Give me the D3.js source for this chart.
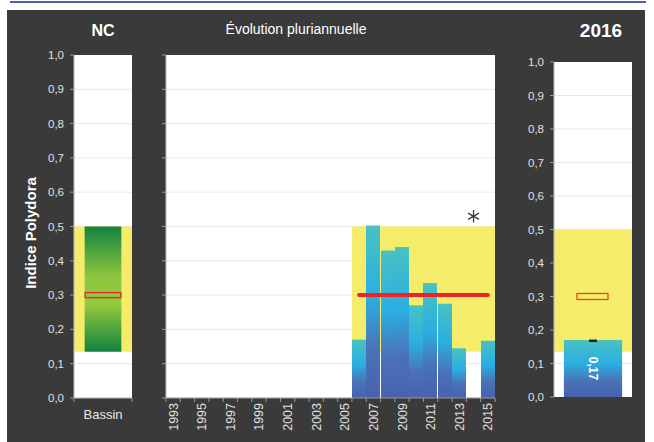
<!DOCTYPE html>
<html>
<head>
<meta charset="utf-8">
<script src="https://cdn.jsdelivr.net/npm/d3@7"></script>
<style>
  body { margin: 0; background: #fff; }
  svg { display: block; font-family: "Liberation Sans", Arial, sans-serif; }
</style>
</head>
<body>
<svg width="654" height="442"></svg>
<script>
// data
var years = [1993, 1994, 1995, 1996, 1997, 1998, 1999, 2000, 2001, 2002, 2003, 2004,
             2005, 2006, 2007, 2008, 2009, 2010, 2011, 2012, 2013, 2014, 2015];
var yearLabels = ["1993", "1995", "1997", "1999", "2001", "2003", "2005", "2007", "2009", "2011", "2013", "2015"];
var barYears = [2006, 2007, 2008, 2009, 2010, 2011, 2012, 2013, 2015];
var barValues = [0.17, 0.503, 0.43, 0.44, 0.27, 0.335, 0.275, 0.145, 0.167];
var refBand = [0.135, 0.5];      // yellow reference band
var refStartYear = 2006;
var medianValue = 0.3;           // red line / red box
var starYear = 2014, starValue = 0.53;
var currentYear = "2016", currentValue = 0.17;
var yTicks = [0, 0.1, 0.2, 0.3, 0.4, 0.5, 0.6, 0.7, 0.8, 0.9, 1.0];

var svg = d3.select("svg");
var fmt = function(v) { return d3.format(".1f")(v).replace(".", ","); };

// background
svg.append("rect").attr("x", 10).attr("y", 1).attr("width", 636).attr("height", 2).attr("fill", "#4b63ae");
svg.append("rect").attr("x", 7).attr("y", 10).attr("width", 638).attr("height", 432).attr("fill", "#3a3a3a");

var defs = svg.append("defs");
var blue = defs.append("linearGradient").attr("id", "blueGrad").attr("x1", 0).attr("x2", 0).attr("y1", 0).attr("y2", 1);
[[0, "#48c2c3"], [0.42, "#2baee2"], [0.72, "#4a72b7"], [1, "#4862ad"]].forEach(function(s) {
  blue.append("stop").attr("offset", s[0]).attr("stop-color", s[1]);
});
var green = defs.append("linearGradient").attr("id", "greenGrad").attr("x1", 0).attr("x2", 0).attr("y1", 0).attr("y2", 1);
[[0, "#128240"], [0.4, "#8dc63f"], [0.62, "#95c93d"], [1, "#128240"]].forEach(function(s) {
  green.append("stop").attr("offset", s[0]).attr("stop-color", s[1]);
});

function yGrid(g, y, x0, x1) {
  g.selectAll(".grid").data(yTicks.slice(1, -1)).enter().append("line")
    .attr("x1", x0).attr("x2", x1)
    .attr("y1", d => y(d)).attr("y2", d => y(d))
    .attr("stroke", "#e2e2e2").attr("stroke-dasharray", "3,1");
}
function yTicksDraw(g, y, x0, labels) {
  g.append("line").attr("x1", x0).attr("x2", x0).attr("y1", y(0)).attr("y2", y(1))
    .attr("stroke", "#bbb").attr("stroke-width", 1);
  g.selectAll(".tk").data(yTicks).enter().append("line")
    .attr("x1", x0 - 4).attr("x2", x0).attr("y1", d => y(d)).attr("y2", d => y(d))
    .attr("stroke", "#999");
  if (labels) {
    g.selectAll(".tl").data(yTicks).enter().append("text")
      .attr("x", x0 - 10).attr("y", d => y(d) + 4)
      .attr("text-anchor", "end").attr("fill", "#e0e0e0").attr("font-size", 11.5)
      .text(fmt);
  }
}

// ---- left panel (NC / Bassin)
var yL = d3.scaleLinear().domain([0, 1]).range([398, 55]);
var xL = d3.scaleBand().domain(["Bassin"]).range([74, 132]).paddingInner(0).paddingOuter(0.29);
var gL = svg.append("g");
gL.append("rect").attr("x", 74).attr("y", yL(1)).attr("width", 58).attr("height", yL(0) - yL(1)).attr("fill", "#fff");
yGrid(gL, yL, 74, 132);
gL.append("rect").attr("x", 74).attr("y", yL(refBand[1])).attr("width", 58)
  .attr("height", yL(refBand[0]) - yL(refBand[1])).attr("fill", "#f5ec6a");
gL.append("rect").attr("x", xL("Bassin")).attr("y", yL(refBand[1])).attr("width", xL.bandwidth())
  .attr("height", yL(refBand[0]) - yL(refBand[1])).attr("fill", "url(#greenGrad)");
gL.append("rect").attr("x", xL("Bassin") + 0.5).attr("y", yL(medianValue) - 2.5)
  .attr("width", xL.bandwidth() - 1).attr("height", 5)
  .attr("fill", "none").attr("stroke", "#e5262c").attr("stroke-width", 1.3);
yTicksDraw(gL, yL, 74, true);
gL.append("line").attr("x1", 74).attr("x2", 132).attr("y1", yL(0)).attr("y2", yL(0)).attr("stroke", "#bbb");
[74, 132].forEach(function(x) {
  gL.append("line").attr("x1", x).attr("x2", x).attr("y1", yL(0)).attr("y2", yL(0) + 4).attr("stroke", "#999");
});
gL.append("text").attr("x", 103).attr("y", 419).attr("text-anchor", "middle")
  .attr("fill", "#e8e8e8").attr("font-size", 13).text("Bassin");
svg.append("text").attr("x", 103).attr("y", 36).attr("text-anchor", "middle")
  .attr("fill", "#fff").attr("font-size", 16).attr("font-weight", "bold").text("NC");
svg.append("text").attr("transform", "translate(36,233) rotate(-90)").attr("text-anchor", "middle")
  .attr("fill", "#fff").attr("font-size", 15).attr("font-weight", "bold").text("Indice Polydora");

// ---- middle panel (multi-year)
var yM = yL;
var xM = d3.scaleBand().domain(years).range([166, 495]);
var gM = svg.append("g");
gM.append("rect").attr("x", 166).attr("y", yM(1)).attr("width", 329).attr("height", yM(0) - yM(1)).attr("fill", "#fff");
yGrid(gM, yM, 166, 495);
gM.append("rect").attr("x", xM(refStartYear)).attr("y", yM(refBand[1]))
  .attr("width", 495 - xM(refStartYear)).attr("height", yM(refBand[0]) - yM(refBand[1])).attr("fill", "#f5ec6a");
gM.selectAll(".bar").data(barYears).enter().append("rect")
  .attr("x", d => Math.round(xM(d)))
  .attr("width", Math.floor(xM.bandwidth()))
  .attr("y", (d, i) => yM(barValues[i]))
  .attr("height", (d, i) => yM(0) - yM(barValues[i]))
  .attr("fill", "url(#blueGrad)");
gM.append("line")
  .attr("x1", xM(barYears[0]) + xM.bandwidth() / 2).attr("x2", xM(barYears[barYears.length - 1]) + xM.bandwidth() / 2)
  .attr("y1", yM(medianValue)).attr("y2", yM(medianValue))
  .attr("stroke", "#ec2329").attr("stroke-width", 4).attr("stroke-linecap", "round");
gM.append("path")
  .attr("d", d3.symbol().type(d3.symbolAsterisk).size(110)())
  .attr("transform", "translate(" + (xM(starYear) + xM.bandwidth() / 2) + "," + yM(starValue) + ")")
  .attr("fill", "none").attr("stroke", "#3a3a3a").attr("stroke-width", 1.3);
yTicksDraw(gM, yM, 166, false);
gM.append("line").attr("x1", 166).attr("x2", 495).attr("y1", yM(0)).attr("y2", yM(0)).attr("stroke", "#999");
gM.selectAll(".xt").data(years.concat([null])).enter().append("line")
  .attr("x1", d => d === null ? 495 : xM(d)).attr("x2", d => d === null ? 495 : xM(d))
  .attr("y1", yM(0)).attr("y2", yM(0) + 4).attr("stroke", "#999");
gM.selectAll(".xl").data(yearLabels).enter().append("text")
  .attr("transform", d => "translate(" + (xM(+d) + xM.bandwidth() / 2 + 4.5) + "," + (yM(0) + 5) + ") rotate(-90)")
  .attr("text-anchor", "end").attr("fill", "#e0e0e0").attr("font-size", 12.5).text(d => d);
svg.append("text").attr("x", 296).attr("y", 34).attr("text-anchor", "middle")
  .attr("fill", "#fff").attr("font-size", 14).text("Évolution pluriannuelle");

// ---- right panel (current year)
var yR = d3.scaleLinear().domain([0, 1]).range([397, 62]);
var xR = d3.scaleBand().domain([currentYear]).range([554, 632]).paddingOuter(0.17);
var gR = svg.append("g");
gR.append("rect").attr("x", 554).attr("y", yR(1)).attr("width", 78).attr("height", yR(0) - yR(1)).attr("fill", "#fff");
yGrid(gR, yR, 554, 632);
gR.append("rect").attr("x", 554).attr("y", yR(refBand[1])).attr("width", 78)
  .attr("height", yR(refBand[0]) - yR(refBand[1])).attr("fill", "#f5ec6a");
gR.append("rect").attr("x", xR(currentYear)).attr("y", yR(currentValue))
  .attr("width", xR.bandwidth()).attr("height", yR(0) - yR(currentValue)).attr("fill", "url(#blueGrad)");
gR.append("rect").attr("x", xR(currentYear) + xR.bandwidth() / 2 - 4).attr("y", yR(currentValue) - 0.5)
  .attr("width", 8).attr("height", 2.5).attr("fill", "#222");
gR.append("rect").attr("x", 577).attr("y", yR(medianValue) - 3)
  .attr("width", 31).attr("height", 6)
  .attr("fill", "none").attr("stroke", "#e8452a").attr("stroke-width", 1.3);
gR.append("text")
  .attr("transform", "translate(" + (xR(currentYear) + xR.bandwidth() / 2 - 4.5) + "," + ((yR(currentValue) + yR(0)) / 2) + ") rotate(90)")
  .attr("text-anchor", "middle").attr("fill", "#fff").attr("font-size", 12).attr("font-weight", "bold")
  .text(d3.format(".2f")(currentValue).replace(".", ","));
yTicksDraw(gR, yR, 554, true);
svg.append("text").attr("x", 601).attr("y", 37).attr("text-anchor", "middle")
  .attr("fill", "#fff").attr("font-size", 19).attr("font-weight", "bold").text(currentYear);
</script>
</body>
</html>
